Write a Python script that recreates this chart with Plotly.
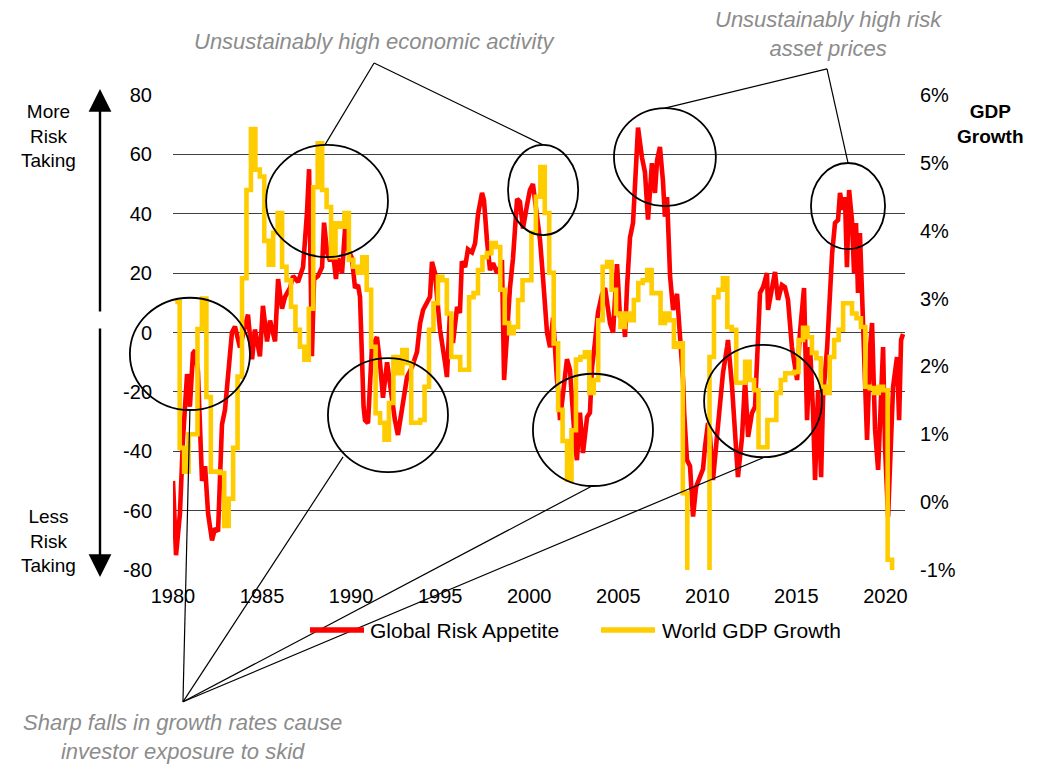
import plotly.graph_objects as go

# Global Risk Appetite index: (decimal year, index level)
risk_years = [
    1980.00, 1980.17, 1980.39, 1980.56, 1980.79, 1980.95, 1981.12, 1981.24, 1981.40, 1981.63,
    1981.80, 1981.97, 1982.19, 1982.36, 1982.53, 1982.75, 1982.92, 1983.09, 1983.31, 1983.48,
    1983.76, 1984.04, 1984.21, 1984.44, 1984.60, 1984.88, 1985.05, 1985.28, 1985.45, 1985.73,
    1985.90, 1986.12, 1986.29, 1986.57, 1986.74, 1987.02, 1987.13, 1987.30, 1987.52, 1987.64,
    1987.80, 1987.92, 1988.14, 1988.37, 1988.48, 1988.65, 1988.82, 1988.98, 1989.15, 1989.26,
    1989.49, 1989.66, 1989.83, 1990.05, 1990.22, 1990.39, 1990.50, 1990.61, 1990.70, 1990.78,
    1990.95, 1991.17, 1991.45, 1991.62, 1991.79, 1992.02, 1992.18, 1992.46, 1992.63, 1992.86,
    1993.14, 1993.42, 1993.70, 1993.87, 1994.04, 1994.43, 1994.54, 1994.71, 1994.99, 1995.27,
    1995.38, 1995.55, 1995.72, 1995.95, 1996.11, 1996.22, 1996.40, 1996.56, 1996.79, 1996.96,
    1997.13, 1997.35, 1997.46, 1997.63, 1997.80, 1997.97, 1998.19, 1998.36, 1998.47, 1998.59,
    1998.75, 1998.92, 1999.09, 1999.32, 1999.48, 1999.65, 1999.88, 2000.04, 2000.21, 2000.44,
    2000.61, 2000.78, 2001.00, 2001.17, 2001.34, 2001.56, 2001.62, 2001.73, 2001.90, 2002.12,
    2002.29, 2002.40, 2002.57, 2002.68, 2002.85, 2003.02, 2003.25, 2003.41, 2003.53, 2003.69,
    2003.86, 2004.09, 2004.26, 2004.54, 2004.71, 2004.93, 2005.10, 2005.27, 2005.38, 2005.49,
    2005.66, 2005.83, 2005.95, 2006.11, 2006.33, 2006.50, 2006.67, 2006.89, 2007.06, 2007.18,
    2007.34, 2007.51, 2007.62, 2007.74, 2007.91, 2008.08, 2008.30, 2008.47, 2008.64, 2008.70,
    2008.86, 2009.03, 2009.20, 2009.37, 2009.59, 2009.76, 2009.87, 2010.04, 2010.15, 2010.32,
    2010.54, 2010.71, 2010.88, 2011.11, 2011.16, 2011.39, 2011.56, 2011.72, 2011.95, 2012.12,
    2012.29, 2012.51, 2012.68, 2012.85, 2012.96, 2013.13, 2013.35, 2013.41, 2013.63, 2013.80,
    2013.97, 2014.19, 2014.36, 2014.53, 2014.75, 2015.04, 2015.20, 2015.32, 2015.43, 2015.60,
    2015.77, 2015.94, 2016.05, 2016.22, 2016.39, 2016.50, 2016.73, 2017.01, 2017.17, 2017.34,
    2017.45, 2017.62, 2017.73, 2017.84, 2017.96, 2018.12, 2018.24, 2018.35, 2018.46, 2018.57,
    2018.74, 2018.86, 2018.97, 2019.14, 2019.25, 2019.42, 2019.59, 2019.87, 2019.98, 2020.15,
    2020.33, 2020.43, 2020.65, 2020.77, 2020.88, 2020.99,
]
risk_values = [
    -50, -75, -61, -36, -14, -25, -7, -6, -13, -50,
    -45, -61, -70, -66, -67, -31, -26, -16, 0, 2,
    -5, 2, 6, -9, 1, -8, 9, -3, 4, -3,
    18, 8, 12, 15, 19, 17, 19, 22, 40, 55,
    -8, 18, 19, 22, 37, 27, 24, 27, 18, 25,
    20, 35, 28, 25, 15, 16, 12, -16, -25, -29.5,
    -30.5, -5, -1.5, -10, -22, -10, -18, -29.5, -34.5, -25,
    -15, -11.6, -6.6, 3, 7.6, 12, 23.8, 20, 1, -10,
    -15, 6.6, -3.5, 8.6, 6.6, 24, 22, 28, 27, 30,
    40, 47, 44.6, 31, 21, 23.4, 20, 22, 24.4, -16,
    1, 15, 25, 45, 44, 35, 43, 48, 50, 40,
    31, 18, 0, -5, 5, -16, -19, -29.5, -19, -9,
    -12.6, -24, -37, -43, -27, -40.6, -28.5, -27, -11.6, -3.5,
    6.6, 13, 15, 3, 0, 23, 5, 6.6, -1.5, 15,
    32, 37, 54, 69, 59, 54, 38, 57, 47, 58,
    62.5, 51, 39, 45.6, 19, 7.6, 13, 0, -16, -27,
    -43, -45, -62, -52, -48.7, -46, -38.6, -30.5, -35, -49.7,
    -35.2, -25, -13.6, -4.9, -2.5, -18.3, -33.8, -48.7, -35.2, -16,
    -35.2, -27.1, -25, -4.9, 13.3, 15.3, 20, 7.6, 15.3, 20.4,
    11, 16, 15.3, 11, -4.9, -16, -0.2, 9.9, 15, -29.5,
    -4.9, -27.1, -49.7, -19.4, -48.7, -21.7, -4.9, 26.8, 36.9, 37.9,
    47, 41.3, 45.6, 22, 48, 37.9, 20, 36.9, 13.3, 33.5,
    6.6, -16, -36.2, -4.9, 3.2, -32.8, -46.3, -4.9, -38.6, -62,
    -29.5, -18.3, -8.3, -29.5, -2.5, -0.5,
]

# World GDP growth, % y/y, quarterly from 1980 Q1 (each value plotted mid-quarter)
gdp_first_year = 1980
gdp_growth = [
    2.95, 0.8, 0.45, 1.0, 1.0, 2.55, 3.0, 1.55, 0.45, 0.45,
    0.43, -0.35, 0.05, 0.8, 1.85, 3.3, 4.6, 5.5, 4.9, 4.8,
    3.85, 3.5, 3.97, 4.26, 3.47, 3.27, 2.88, 2.54, 2.29, 2.1,
    2.85, 4.64, 5.29, 4.6, 4.35, 3.61, 4.11, 4.06, 4.26, 3.57,
    3.47, 3.38, 3.61, 3.13, 2.29, 1.31, 1.17, 0.92, 1.46, 2.14,
    1.9, 2.24, 2.05, 1.17, 1.17, 1.21, 1.7, 2.54, 2.93, 3.32,
    3.27, 2.78, 2.14, 2.14, 1.95, 1.95, 3.02, 3.08, 3.42, 3.61,
    3.67, 3.82, 3.76, 3.13, 2.64, 2.49, 2.58, 2.98, 3.27, 3.27,
    3.97, 4.5, 4.94, 4.26, 3.38, 2.34, 1.36, 0.9, 0.33, 1.06,
    2.1, 2.14, 2.21, 1.61, 1.8, 2.68, 3.47, 3.54, 3.13, 2.78,
    2.58, 2.78, 2.68, 2.98, 3.23, 3.27, 3.42, 3.08, 3.08, 2.64,
    2.78, 2.68, 2.29, 2.34, 0.13, -1.8, -2.4, -2.2, -1.6, -1.4,
    2.14, 3.02, 3.13, 3.3, 2.58, 2.54, 1.76, 1.76, 2.07, 1.8,
    1.65, 0.81, 0.81, 1.21, 1.21, 1.61, 1.8, 1.9, 1.9, 1.92,
    2.39, 2.57, 2.43, 2.2, 2.12, 1.7, 1.61, 2.14, 2.39, 2.54,
    2.93, 2.93, 2.78, 2.71, 2.58, 1.7, 1.68, 1.61, 1.7, 1.65,
    -0.85, -2.0,
]
gdp_years = [gdp_first_year + 0.125 + 0.25 * i for i in range(len(gdp_growth))]

series_names = ["Global Risk Appetite", "World GDP Growth"]
series_colors = ["#FF0000", "#FFCC00"]

x_ticks = [1980, 1985, 1990, 1995, 2000, 2005, 2010, 2015, 2020]
x_labels = [str(v) for v in x_ticks]
left_ticks = [-80, -60, -40, -20, 0, 20, 40, 60, 80]
left_labels = ["-80", "-60", "-40", "-20", "0", "20", "40", "60", "80"]
right_ticks = [-1, 0, 1, 2, 3, 4, 5, 6]
right_labels = ["-1%", "0%", "1%", "2%", "3%", "4%", "5%", "6%"]

W, H = 1040, 765
M_L, M_R, M_T, M_B = 173, 135, 95, 195
X_MIN, X_MAX = 1980, 2021.1
Y_MIN, Y_MAX = -80, 80
FONT = "Liberation Sans, Arial, sans-serif"
GREY = "#8C8C8C"


def to_paper(x, y):
    """Convert (year, index level) to paper coordinates of the plot area."""
    return (x - X_MIN) / (X_MAX - X_MIN), (y - Y_MIN) / (Y_MAX - Y_MIN)


def px_paper(px, py):
    """Convert a page pixel position to paper coordinates."""
    return (px - M_L) / (W - M_L - M_R), (H - M_B - py) / (H - M_T - M_B)


fig = go.Figure()
fig.add_trace(go.Scatter(
    x=risk_years, y=risk_values, name=series_names[0], mode="lines",
    line=dict(color=series_colors[0], width=4.6), showlegend=False,
))
fig.add_trace(go.Scatter(
    x=gdp_years, y=gdp_growth, name=series_names[1], mode="lines",
    line=dict(color=series_colors[1], width=4.6, shape="hv"), yaxis="y2",
    showlegend=False,
))

# Highlight ellipses: centre year, centre level, half-width (years), half-height (levels)
ellipses = [
    (1980.95, -7.2, 3.37, 18.9),
    (1988.65, 44.3, 3.42, 18.9),
    (1992.07, -27.8, 3.37, 19.2),
    (2000.78, 48.0, 1.97, 15.2),
    (2007.62, 59.1, 2.86, 16.5),
    (2003.58, -32.8, 3.37, 18.9),
    (2013.13, -23.1, 3.31, 18.9),
    (2017.90, 42.6, 2.08, 14.5),
]
shapes = []
for cx, cy, rx, ry in ellipses:
    x0, y0 = to_paper(cx - rx, cy - ry)
    x1, y1 = to_paper(cx + rx, cy + ry)
    shapes.append(dict(type="circle", xref="paper", yref="paper",
                       x0=x0, y0=y0, x1=x1, y1=y1,
                       line=dict(color="black", width=1.8)))

# Leader lines from each caption to its ellipses
leaders = [
    ((1991.29, 90.8), [(1988.53, 63.2), (2000.77, 63.2)]),
    ((2016.72, 88.8), [(2007.62, 75.6), (2017.90, 57.1)]),
    ((1980.56, -124.4), [(1980.95, -26.1), (1989.55, -41.9),
                         (2003.53, -51.7), (2013.24, -41.9)]),
]
for (ax_, ay_), targets in leaders:
    px0, py0 = to_paper(ax_, ay_)
    for tx, ty in targets:
        px1, py1 = to_paper(tx, ty)
        shapes.append(dict(type="line", xref="paper", yref="paper",
                           x0=px0, y0=py0, x1=px1, y1=py1,
                           line=dict(color="black", width=1.2)))

annotations = []
captions = [
    (1991.34, 97.9, "Unsustainably high economic activity"),
    (2016.78, 100.5, "Unsustainably high risk<br>asset prices"),
    (1980.56, -136.2, "Sharp falls in growth rates cause<br>investor exposure to skid"),
]
for cx, cy, txt in captions:
    px, py = to_paper(cx, cy)
    annotations.append(dict(xref="paper", yref="paper", x=px, y=py, text=f"<i>{txt}</i>",
                            showarrow=False, xanchor="center", yanchor="middle",
                            font=dict(family=FONT, size=22, color=GREY)))

# Legend: line sample followed by the series name
legend_rows = [(310, 364, 368), (601, 655, 660)]
for (sx0, sx1, tx), name, color in zip(legend_rows, series_names, series_colors):
    lx0, ly = px_paper(sx0, 630)
    lx1, _ = px_paper(sx1, 630)
    shapes.append(dict(type="line", xref="paper", yref="paper",
                       x0=lx0, y0=ly, x1=lx1, y1=ly,
                       line=dict(color=color, width=5.5)))
    txp, _ = px_paper(tx, 630)
    annotations.append(dict(xref="paper", yref="paper", x=txp, y=ly, text=name,
                            showarrow=False, xanchor="left", yanchor="middle",
                            font=dict(family=FONT, size=21, color="black")))

# Axis side notes
for px, py, txt in [(48, 136, "More<br>Risk<br>Taking"),
                    (48, 541, "Less<br>Risk<br>Taking"),
                    (990, 124, "<b>GDP<br>Growth</b>")]:
    xp, yp = px_paper(px, py)
    annotations.append(dict(xref="paper", yref="paper", x=xp, y=yp, text=txt,
                            showarrow=False, xanchor="center", yanchor="middle",
                            font=dict(family=FONT, size=19, color="black")))

# Direction arrows beside the left axis
up_x, up_y = px_paper(100, 89)
dn_x, dn_y = px_paper(100, 577)
annotations.append(dict(xref="paper", yref="paper", x=up_x, y=up_y,
                        ax=0, ay=224, text="", showarrow=True,
                        arrowhead=2, arrowsize=1.9, arrowwidth=2.4, arrowcolor="black"))
annotations.append(dict(xref="paper", yref="paper", x=dn_x, y=dn_y,
                        ax=0, ay=-250, text="", showarrow=True,
                        arrowhead=2, arrowsize=1.9, arrowwidth=2.4, arrowcolor="black"))

tick_font = dict(family=FONT, size=20, color="black")
fig.update_layout(
    width=W, height=H,
    margin=dict(l=M_L, r=M_R, t=M_T, b=M_B),
    paper_bgcolor="white", plot_bgcolor="white",
    showlegend=False,
    xaxis=dict(range=[X_MIN, X_MAX], tickvals=x_ticks, ticktext=x_labels,
               showgrid=False, zeroline=False, showline=False, ticks="",
               tickfont=tick_font, ticklabelstandoff=12),
    yaxis=dict(range=[Y_MIN, Y_MAX], tickvals=left_ticks, ticktext=left_labels,
               showgrid=True, gridcolor="#404040", gridwidth=1,
               zeroline=False, showline=False, ticks="",
               tickfont=tick_font, ticklabelstandoff=20),
    yaxis2=dict(range=[-1, 6], tickvals=right_ticks, ticktext=right_labels,
                overlaying="y", side="right", showgrid=False, zeroline=False,
                showline=False, ticks="", tickfont=tick_font, ticklabelstandoff=14),
    shapes=shapes,
    annotations=annotations,
)

fig.write_html("out.html")
